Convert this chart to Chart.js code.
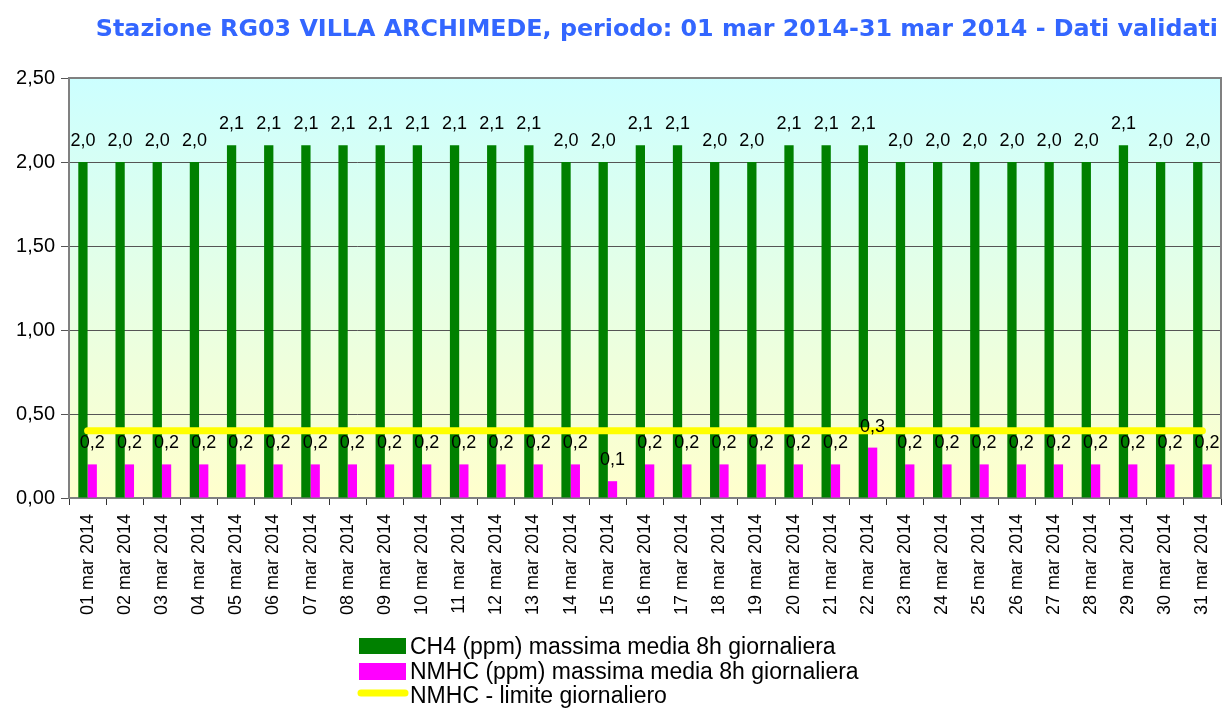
<!DOCTYPE html>
<html>
<head>
<meta charset="utf-8">
<script src="https://cdn.jsdelivr.net/npm/chart.js@4/dist/chart.umd.min.js"></script>
<style>
html,body{margin:0;padding:0;background:#fff;}
#wrap{width:1223px;height:708px;}
</style>
</head>
<body>
<div id="wrap"><canvas id="c" width="1223" height="708"></canvas></div>
<script>
const categories = ["01 mar 2014","02 mar 2014","03 mar 2014","04 mar 2014","05 mar 2014","06 mar 2014","07 mar 2014","08 mar 2014","09 mar 2014","10 mar 2014","11 mar 2014","12 mar 2014","13 mar 2014","14 mar 2014","15 mar 2014","16 mar 2014","17 mar 2014","18 mar 2014","19 mar 2014","20 mar 2014","21 mar 2014","22 mar 2014","23 mar 2014","24 mar 2014","25 mar 2014","26 mar 2014","27 mar 2014","28 mar 2014","29 mar 2014","30 mar 2014","31 mar 2014"];
const ch4 = [2.0,2.0,2.0,2.0,2.1,2.1,2.1,2.1,2.1,2.1,2.1,2.1,2.1,2.0,2.0,2.1,2.1,2.0,2.0,2.1,2.1,2.1,2.0,2.0,2.0,2.0,2.0,2.0,2.1,2.0,2.0];
const nmhc = [0.2,0.2,0.2,0.2,0.2,0.2,0.2,0.2,0.2,0.2,0.2,0.2,0.2,0.2,0.1,0.2,0.2,0.2,0.2,0.2,0.2,0.3,0.2,0.2,0.2,0.2,0.2,0.2,0.2,0.2,0.2];
const limite = [0.4,0.4,0.4,0.4,0.4,0.4,0.4,0.4,0.4,0.4,0.4,0.4,0.4,0.4,0.4,0.4,0.4,0.4,0.4,0.4,0.4,0.4,0.4,0.4,0.4,0.4,0.4,0.4,0.4,0.4,0.4];
const seriesNames = ["CH4 (ppm) massima media 8h giornaliera","NMHC (ppm) massima media 8h giornaliera","NMHC - limite giornaliero"];
const titleText = "Stazione RG03 VILLA ARCHIMEDE, periodo: 01 mar 2014-31 mar 2014 - Dati validati";
const yTicks = [0,0.5,1,1.5,2,2.5];

const GREEN = "#008000", MAGENTA = "#ff00ff", YELLOW = "#ffff00";
const ARIAL = '"Liberation Sans", Arial, sans-serif';

const bgPlugin = {
  id: 'bg',
  beforeDraw(chart) {
    const {ctx, chartArea: a} = chart;
    const g = ctx.createLinearGradient(0, a.top, 0, a.bottom);
    g.addColorStop(0, '#ccffff');
    g.addColorStop(1, '#ffffcc');
    ctx.save();
    ctx.fillStyle = g;
    ctx.fillRect(a.left, a.top, a.right - a.left, a.bottom - a.top);
    ctx.restore();
  },
  afterDatasetsDraw(chart) {
    const {ctx, chartArea: a} = chart;
    ctx.save();
    ctx.strokeStyle = '#808080';
    ctx.lineWidth = 2;
    ctx.beginPath();
    ctx.moveTo(a.left, a.top); ctx.lineTo(a.right, a.top); ctx.lineTo(a.right, a.bottom);
    ctx.stroke();
    // data labels
    ctx.fillStyle = '#000';
    ctx.font = '18px ' + ARIAL;
    ctx.textAlign = 'center';
    ctx.textBaseline = 'middle';
    [0,1].forEach(di => {
      const meta = chart.getDatasetMeta(di);
      const data = chart.data.datasets[di].data;
      meta.data.forEach((el, i) => {
        ctx.fillText(data[i].toFixed(1).replace('.', ','), el.x, el.y - 21);
      });
    });
    ctx.restore();
  },
  afterDraw(chart) {
    const {ctx} = chart;
    ctx.save();
    // title
    ctx.fillStyle = '#3366ff';
    ctx.font = 'bold 23.8px "DejaVu Sans", Verdana, sans-serif';
    ctx.textAlign = 'right';
    ctx.textBaseline = 'alphabetic';
    ctx.fillText(titleText, 1218, 36);
    // legend
    ctx.font = '23px ' + ARIAL;
    ctx.textAlign = 'left';
    ctx.fillStyle = GREEN;
    ctx.fillRect(359, 638, 47, 16);
    ctx.fillStyle = MAGENTA;
    ctx.fillRect(359, 663, 47, 17);
    ctx.strokeStyle = YELLOW;
    ctx.lineWidth = 7;
    ctx.lineCap = 'round';
    ctx.beginPath(); ctx.moveTo(361, 693); ctx.lineTo(405, 693); ctx.stroke();
    ctx.fillStyle = '#000';
    ctx.fillText(seriesNames[0], 410, 654);
    ctx.fillText(seriesNames[1], 410, 679);
    ctx.fillText(seriesNames[2], 410, 703);
    ctx.restore();
  }
};

new Chart(document.getElementById('c'), {
  data: {
    labels: categories,
    datasets: [
      {type:'bar', label: seriesNames[0], data: ch4, backgroundColor: GREEN, categoryPercentage: 0.5, barPercentage: 1, order: 2},
      {type:'bar', label: seriesNames[1], data: nmhc, backgroundColor: MAGENTA, categoryPercentage: 0.5, barPercentage: 1, order: 2},
      {type:'line', label: seriesNames[2], data: limite, borderColor: YELLOW, borderWidth: 7, borderCapStyle: 'round', pointRadius: 0, fill: false, order: 1}
    ]
  },
  options: {
    responsive: false,
    animation: false,
    layout: {padding: {top: 78, bottom: 90, left: 0, right: 2}},
    plugins: {legend: {display: false}, title: {display: false}, tooltip: {enabled: false}},
    scales: {
      x: {
        offset: true,
        grid: {display: true, drawOnChartArea: false, offset: true, color: '#333', tickLength: 7},
        border: {display: true, color: '#808080', width: 2},
        ticks: {font: {size: 18, family: ARIAL}, color: '#000', minRotation: 90, maxRotation: 90, padding: 9, autoSkip: false},
        afterFit(s) { s.height = 120; s.paddingLeft = 0; s.paddingRight = 0; }
      },
      y: {
        min: 0, max: 2.5,
        afterBuildTicks(s) { s.ticks = yTicks.map(v => ({value: v})); },
        grid: {color: '#555', tickLength: 8, lineWidth: 1},
        border: {display: true, color: '#808080', width: 2},
        ticks: {font: {size: 20, family: ARIAL}, color: '#000', padding: 6,
          callback: v => Number(v).toFixed(2).replace('.', ',')},
        afterFit(s) { s.width = 69; }
      }
    }
  },
  plugins: [bgPlugin]
});
</script>
</body>
</html>
